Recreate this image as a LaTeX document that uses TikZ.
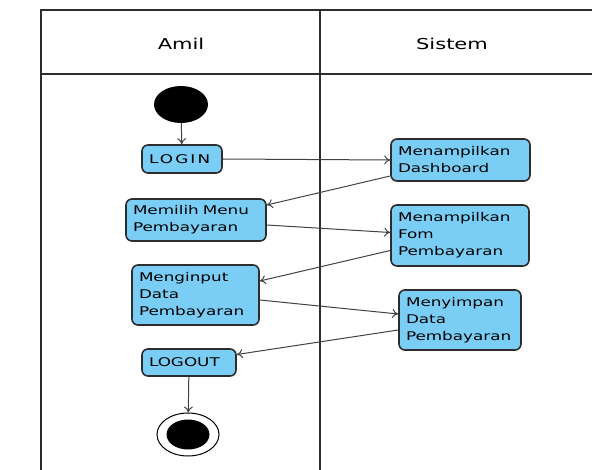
\documentclass[tikz,border=0pt]{standalone}
\usepackage{fontspec}
\setmainfont{DejaVu Sans}[FakeStretch=1.4]
\usetikzlibrary{calc,shapes.geometric,arrows.meta}
\definecolor{actblue}{RGB}{122,206,245}
\definecolor{lane}{RGB}{45,45,45}
\tikzset{
  act/.style={draw=lane, fill=actblue, line width=1.6pt, rounded corners=6pt, align=left,
    inner xsep=7pt, inner ysep=2pt, font=\fontsize{12}{17}\selectfont},
  flow/.style={draw=lane!90, line width=1pt, -{To[length=6pt,width=9pt]}},
  head/.style={font=\fontsize{15}{18}\selectfont}
}

\begin{document}
\begin{tikzpicture}[x=1pt,y=-1pt]
  \useasboundingbox (0,0) rectangle (592,470);
  \draw[lane, line width=1.6pt] (41,470) -- (41,10) -- (592,10);
  \draw[lane, line width=1.6pt] (41,74) -- (592,74);
  \draw[lane, line width=1.6pt] (320,10) -- (320,470);
  \node[head] (amil) at (181,44) {Amil};
  \node[head] (sistem) at (452,44) {Sistem};

  \node[ellipse, fill=black, inner sep=0pt, minimum width=54pt, minimum height=37pt] (start) at (181,104.5) {};
  \node[act, text width=66pt, minimum height=28pt] (login) at (182,159) {\addfontfeature{LetterSpace=18}LOGIN};
  \node[act, text width=125pt, minimum height=42pt] (dash) at (460.5,160) {Menampilkan\\Dashboard};
  \node[act, text width=126pt, minimum height=42pt] (menu) at (196,220) {Memilih Menu\\Pembayaran};
  \node[act, text width=124pt, minimum height=61pt] (form) at (460,235.5) {Menampilkan\\Fom\\Pembayaran};
  \node[act, text width=113pt, minimum height=60pt] (input) at (195.5,295) {Menginput\\Data\\Pembayaran};
  \node[act, text width=108pt, minimum height=60pt] (simpan) at (460,320) {Menyimpan\\Data\\Pembayaran};
  \node[act, text width=80pt, minimum height=27pt] (logout) at (189,362.5) {LOGOUT};
  \node[ellipse, draw, line width=1pt, inner sep=0pt, minimum width=62pt, minimum height=43pt] (stop) at (188,434.5) {};
  \fill (stop.center) ellipse [x radius=21.5, y radius=15];

  \draw[flow] (start) -- (login);
  \draw[flow] (login.east) -- (dash.west);
  \draw[flow] ([yshift=-16pt]dash.west) -- ([yshift=15pt]menu.east);
  \draw[flow] ([yshift=-5pt]menu.east) -- ([yshift=3pt]form.west);
  \draw[flow] ([yshift=-15pt]form.west) -- ([yshift=14pt]input.east);
  \draw[flow] ([yshift=-5pt]input.east) -- ([yshift=6pt]simpan.west);
  \draw[flow] ([yshift=-10pt]simpan.west) -- ([yshift=8pt]logout.east);
  \draw[flow] (logout) -- (stop);
\end{tikzpicture}
\end{document}
